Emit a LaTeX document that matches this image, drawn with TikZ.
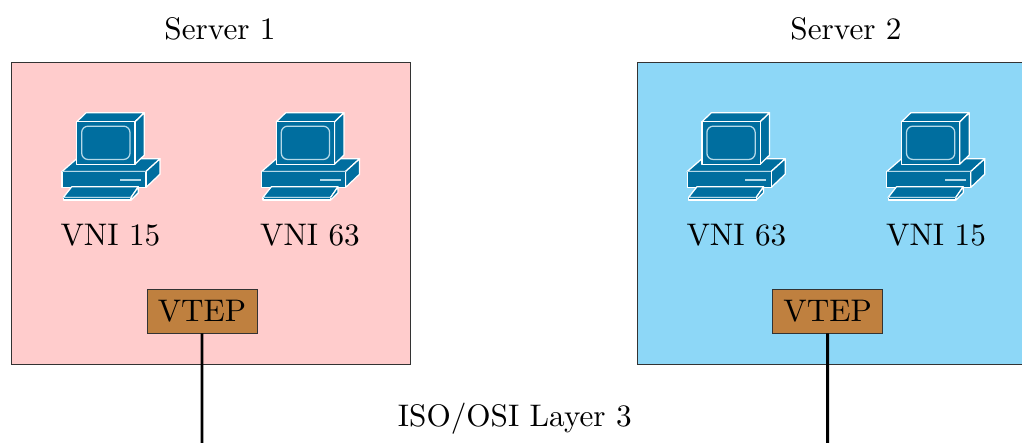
\documentclass[tikz,border=0pt]{standalone}
\usepackage{xcolor}

\definecolor{serverpink}{HTML}{FFCCCC}
\definecolor{serverblue}{HTML}{8DD7F7}
\definecolor{vtepbrown}{HTML}{BF803F}
\definecolor{pcblue}{HTML}{006E9F}
\definecolor{pcline}{HTML}{B5D9E8}

\tikzset{
  server/.style={draw=black!80, line width=0.6pt, minimum width=9.975cm, minimum height=7.55cm},
  vtep/.style={draw=black!80, line width=0.27pt, fill=vtepbrown, scale=2.22, transform shape, minimum width=1.239cm, minimum height=0.495cm, inner sep=0pt},
  label/.style={scale=2.22, transform shape},
  pcedge/.style={draw=white, fill=pcblue, line width=0.9pt, line join=round},
  computer/.pic={
    \begin{scope}[scale=1/120]
      % base
      \path[pcedge] (-144,-44) -- (-100,-6) -- (150,-6) -- (108,-44) -- cycle;
      \path[pcedge] (108,-44) -- (150,-6) -- (150,-52) -- (108,-92) -- cycle;
      \path[pcedge] (-144,-44) rectangle (108,-92);
      \draw[pcline, line width=0.9pt] (-144,-44) -- (108,-44);
      \fill[pcline] (30,-68) rectangle (93,-74);
      % monitor
      \path[pcedge] (-100,105) -- (-72,132) -- (103,132) -- (75,105) -- cycle;
      \path[pcedge] (75,105) -- (103,132) -- (103,5) -- (75,-22) -- cycle;
      \path[pcedge] (-100,105) rectangle (75,-22);
      \draw[pcline, line width=0.9pt, rounded corners=1.6mm] (-85,92) rectangle (60,-8);
      % keyboard
      \path[pcedge] (-140,-122) -- (-115,-90) -- (85,-90) -- (63,-122) -- cycle;
      \path[pcedge] (63,-122) -- (85,-90) -- (85,-108) -- (63,-130) -- cycle;
      \path[pcedge] (-140,-122) rectangle (63,-130);
      \draw[pcline, line width=0.9pt] (-140,-122) -- (63,-122);
    \end{scope}
  }
}

\begin{document}
\begin{tikzpicture}
  \clip (0,0) rectangle (25.55,-11.05);

  \node[server, fill=serverpink] (server1) at (5.2625,-5.325) {};
  \node[server, fill=serverblue] (server2) at (20.9125,-5.325) {};

  \node[label] (name1) at (5.5,-0.72) {Server 1};
  \node[label] (name2) at (21.15,-0.72) {Server 2};

  \pic at (2.75,-3.92) {computer};
  \pic at (7.74,-3.92) {computer};
  \pic at (18.38,-3.92) {computer};
  \pic at (23.37,-3.92) {computer};

  \node[label] (vni15) at (2.76,-5.88) {VNI 15};
  \node[label] (vni63) at (7.75,-5.88) {VNI 63};
  \node[label] (vni63') at (18.41,-5.88) {VNI 63};
  \node[label] (vni15') at (23.4,-5.88) {VNI 15};

  \node[vtep] (vtep1) at (5.05,-7.775) {VTEP};
  \node[vtep] (vtep2) at (20.69,-7.775) {VTEP};

  \coordinate (net1) at (5.05,-11.3);
  \coordinate (net2) at (20.69,-11.3);
  \draw[line width=2.1pt] (vtep1) -- (net1);
  \draw[line width=2.1pt] (vtep2) -- (net2);

  \node[label] (layer3) at (12.87,-10.46) {ISO/OSI Layer 3};
\end{tikzpicture}
\end{document}
